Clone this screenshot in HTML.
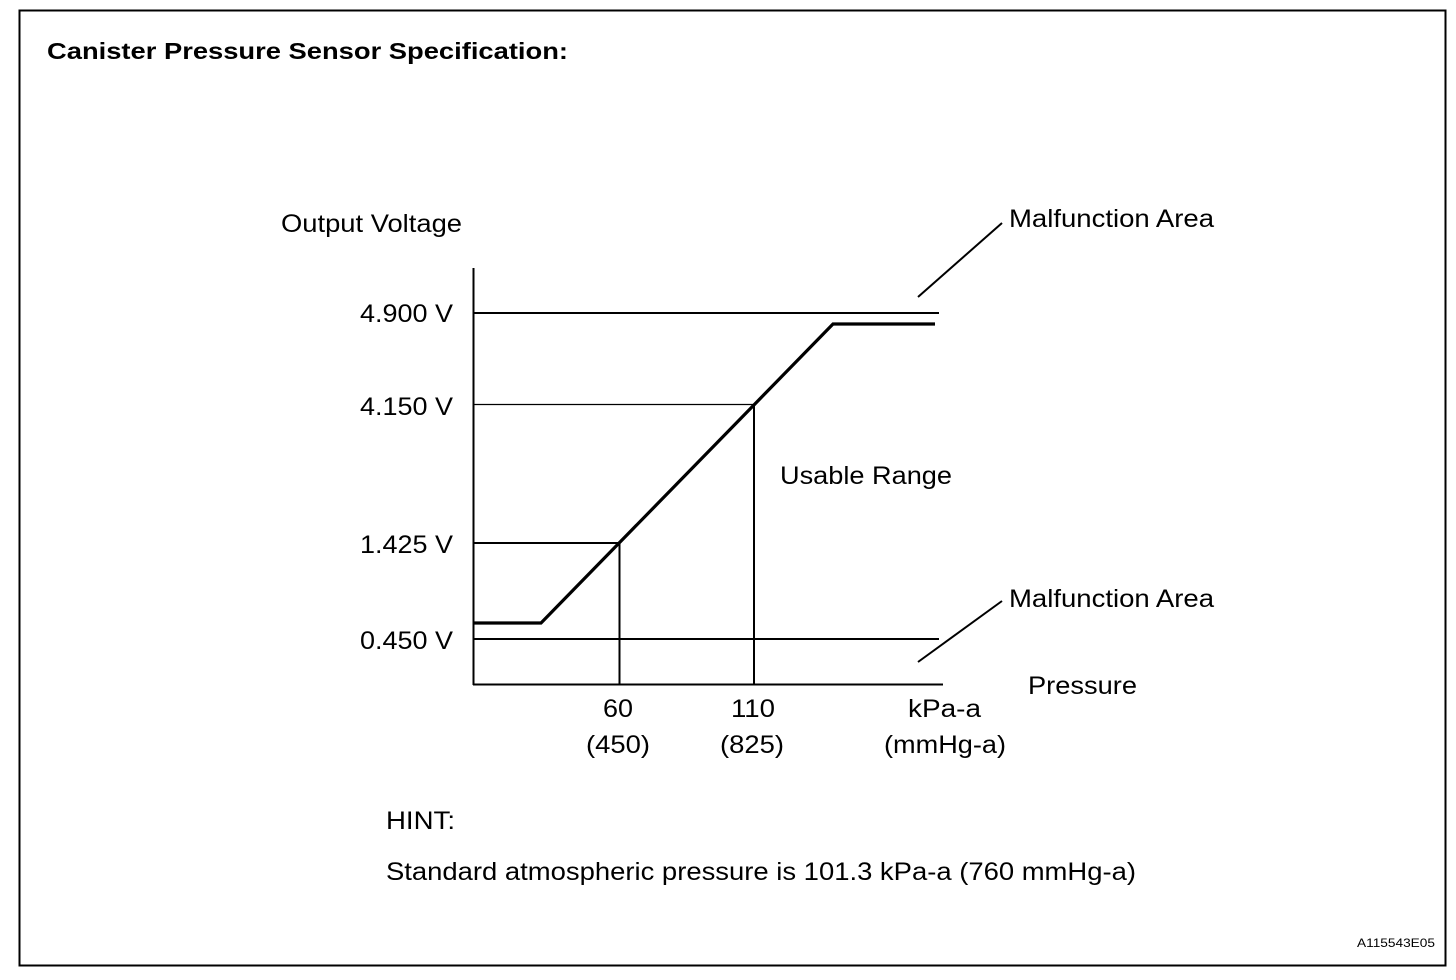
<!DOCTYPE html>
<html><head><style>
body{margin:0;background:#fff;}
svg{display:block;}
text{font-family:"Liberation Sans",Arial,sans-serif;fill:#000;}
</style></head><body>
<svg width="1456" height="980" xmlns="http://www.w3.org/2000/svg">
<rect x="19.5" y="10.5" width="1426" height="955" fill="none" stroke="#000" stroke-width="2"/>
<text x="47" y="59" font-size="23" font-weight="bold" textLength="521" lengthAdjust="spacingAndGlyphs">Canister Pressure Sensor Specification:</text>
<g stroke="#000" fill="none">
<line x1="473.5" y1="268" x2="473.5" y2="685" stroke-width="2"/>
<line x1="473" y1="684.5" x2="943" y2="684.5" stroke-width="2"/>
<line x1="473" y1="313" x2="939" y2="313" stroke-width="2"/>
<line x1="473" y1="639" x2="939" y2="639" stroke-width="2"/>
<line x1="473" y1="404.5" x2="754" y2="404.5" stroke-width="1.3"/>
<line x1="754" y1="404" x2="754" y2="684" stroke-width="2"/>
<line x1="473" y1="543" x2="620" y2="543" stroke-width="2"/>
<line x1="619.5" y1="543" x2="619.5" y2="684" stroke-width="2"/>
<polyline points="473,623 541,623 833,324 935,324" stroke-width="3.2"/>
<line x1="918" y1="297" x2="1002" y2="223" stroke-width="2"/>
<line x1="918" y1="662" x2="1002" y2="601" stroke-width="2"/>
</g>
<g font-size="25">
<text x="281" y="232" textLength="181" lengthAdjust="spacingAndGlyphs">Output Voltage</text>
<text x="1009" y="227" textLength="205" lengthAdjust="spacingAndGlyphs">Malfunction Area</text>
<text x="1009" y="607" textLength="205" lengthAdjust="spacingAndGlyphs">Malfunction Area</text>
<text x="360" y="322" textLength="93" lengthAdjust="spacingAndGlyphs">4.900 V</text>
<text x="360" y="415" textLength="93" lengthAdjust="spacingAndGlyphs">4.150 V</text>
<text x="360" y="553" textLength="93" lengthAdjust="spacingAndGlyphs">1.425 V</text>
<text x="360" y="649" textLength="93" lengthAdjust="spacingAndGlyphs">0.450 V</text>
<text x="780" y="484" textLength="172" lengthAdjust="spacingAndGlyphs">Usable Range</text>
<text x="1028" y="694" textLength="109" lengthAdjust="spacingAndGlyphs">Pressure</text>
<text x="603" y="717" textLength="30" lengthAdjust="spacingAndGlyphs">60</text>
<text x="586" y="753" textLength="64" lengthAdjust="spacingAndGlyphs">(450)</text>
<text x="731" y="717" textLength="44" lengthAdjust="spacingAndGlyphs">110</text>
<text x="720" y="753" textLength="64" lengthAdjust="spacingAndGlyphs">(825)</text>
<text x="908" y="717" textLength="73" lengthAdjust="spacingAndGlyphs">kPa-a</text>
<text x="884" y="753" textLength="122" lengthAdjust="spacingAndGlyphs">(mmHg-a)</text>
<text x="386" y="829" textLength="69" lengthAdjust="spacingAndGlyphs">HINT:</text>
<text x="386" y="880" textLength="750" lengthAdjust="spacingAndGlyphs">Standard atmospheric pressure is 101.3 kPa-a (760 mmHg-a)</text>
</g>
<text x="1357" y="947" font-size="12" textLength="78" lengthAdjust="spacingAndGlyphs">A115543E05</text>
</svg>
</body></html>
